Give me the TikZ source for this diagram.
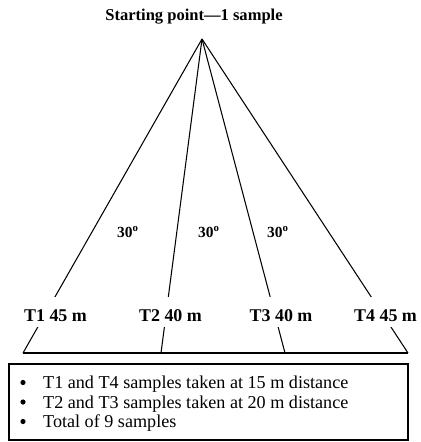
\documentclass[tikz,border=0pt]{standalone}
\usepackage{fontspec}
\setmainfont{Liberation Serif}
\begin{document}
\begin{tikzpicture}[x=1bp,y=-1bp,
  ray/.style={line width=1.05bp, black},
  tlabel/.style={font=\fontsize{18}{20}\selectfont\bfseries, anchor=base, fill=white,
    inner xsep=1bp, inner ysep=0pt, text height=24bp, text depth=6bp},
  anglelabel/.style={font=\fontsize{15.5}{17}\selectfont\bfseries, anchor=base west, inner sep=0pt},
  titlelabel/.style={font=\fontsize{16.6}{18}\selectfont\bfseries, anchor=base, inner sep=0pt},
  bulletmark/.style={circle, fill=black, inner sep=0pt, minimum size=5.2bp},
  bullettext/.style={font=\fontsize{18.2}{20}\selectfont, anchor=base west, inner sep=0pt},
  infobox/.style={draw, line width=1.2bp}
]
\useasboundingbox (0,0) rectangle (420,442);

\node[titlelabel] (title) at (194,21) {Starting point---1 sample};
\coordinate (apex) at (202,39);
\coordinate (b1) at (23,353);
\coordinate (b2) at (161,353);
\coordinate (b3) at (285,353);
\coordinate (b4) at (408,353);

\draw[ray] (apex) -- (b1);
\draw[ray] (apex) -- (b2);
\draw[ray] (apex) -- (b3);
\draw[ray] (apex) -- (b4);
\draw[ray] (b1) -- (b4);

\node[tlabel] (t1) at (55.5,321) {T1 45 m};
\node[tlabel] (t2) at (170.5,321) {T2 40 m};
\node[tlabel] (t3) at (281,321) {T3 40 m};
\node[tlabel] (t4) at (385.5,321) {T4 45 m};

\node[anglelabel] (a1) at (117,237) {30\textsuperscript{o}};
\node[anglelabel] (a2) at (198,237) {30\textsuperscript{o}};
\node[anglelabel] (a3) at (267,237) {30\textsuperscript{o}};

\draw[infobox] (9,364) rectangle (408,440);

\node[bulletmark] (m1) at (23,382.5) {};
\node[bulletmark] (m2) at (23,402) {};
\node[bulletmark] (m3) at (23,421.5) {};
\node[bullettext] (l1) at (43,388) {T1 and T4 samples taken at 15 m distance};
\node[bullettext] (l2) at (43,408) {T2 and T3 samples taken at 20 m distance};
\node[bullettext] (l3) at (43,427) {Total of 9 samples};
\end{tikzpicture}
\end{document}
